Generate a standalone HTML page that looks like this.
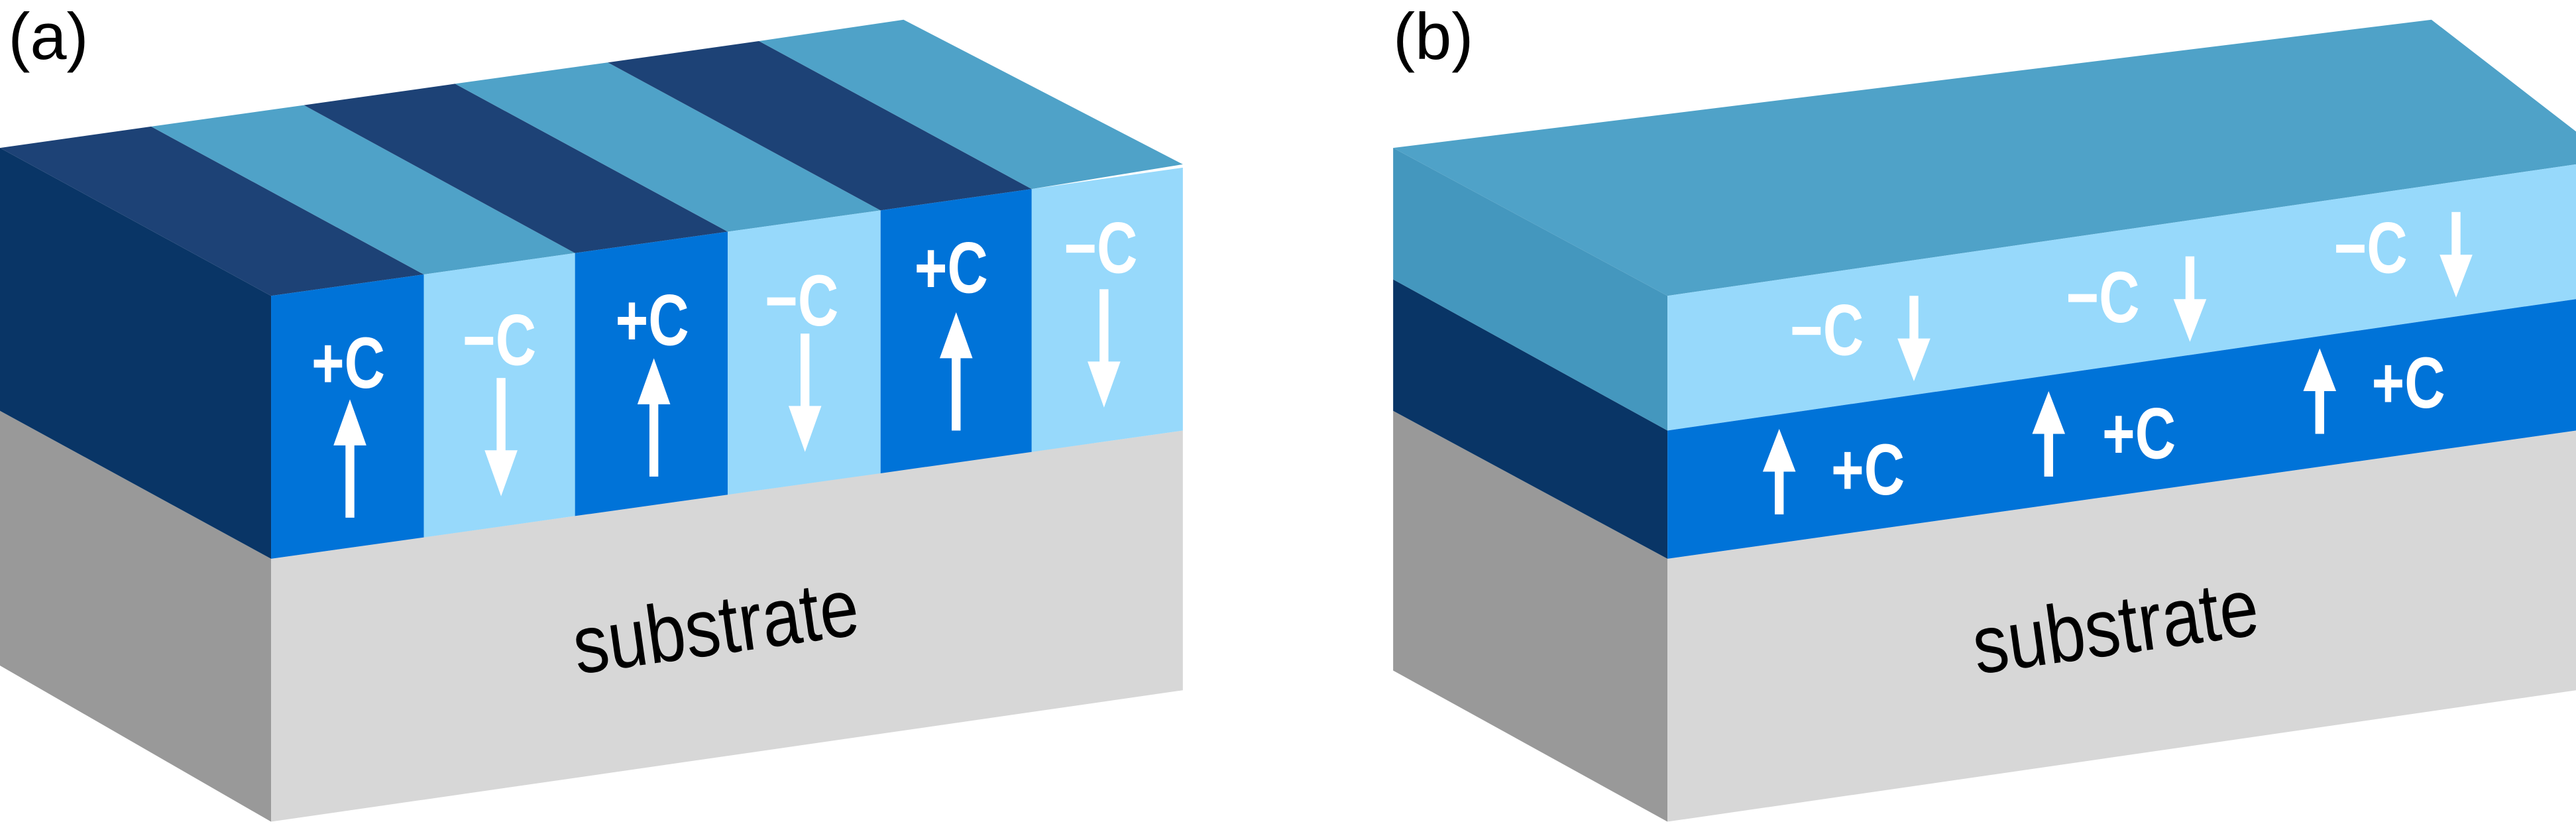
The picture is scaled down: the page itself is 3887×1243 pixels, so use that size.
<!DOCTYPE html>
<html><head><style>html,body{margin:0;padding:0;background:#fff}svg{display:block}</style></head>
<body>
<svg width="3887" height="1243" viewBox="0 0 1568 501.4" preserveAspectRatio="none" xmlns="http://www.w3.org/2000/svg" font-family="Liberation Sans, sans-serif">
<defs>
<g id="up"><rect x="-2.7" y="26" width="5.4" height="46" fill="#fff"/><polygon points="0,0 -10,28 10,28" fill="#fff"/></g>
<g id="dn"><rect x="-2.7" y="0" width="5.4" height="46" fill="#fff"/><polygon points="0,72 -10,44 10,44" fill="#fff"/></g>
<g id="up2"><rect x="-2.7" y="24" width="5.4" height="28" fill="#fff"/><polygon points="0,0 -10,26 10,26" fill="#fff"/></g>
<g id="dn2"><rect x="-2.7" y="0" width="5.4" height="28" fill="#fff"/><polygon points="0,52 -10,26 10,26" fill="#fff"/></g>
</defs>
<!-- (a) -->
<text x="5" y="36" font-size="40">(a)</text>
<polygon points="0,250 165,340 165,500 0,405" fill="#999"/>
<polygon points="165,340 720,262 720,420 165,500" fill="#d7d7d7"/>
<polygon points="0,90 165,180 165,340 0,250" fill="#093566"/>
<polygon points="0,90 92,77 258,167 165,180" fill="#1d4276"/>
<polygon points="92,77 185,64 350,154 258,167" fill="#4fa2c8"/>
<polygon points="185,64 277,51 443,141 350,154" fill="#1d4276"/>
<polygon points="277,51 370,38 536,128 443,141" fill="#4fa2c8"/>
<polygon points="370,38 462,25 628,115 536,128" fill="#1d4276"/>
<polygon points="462,25 550,12 720,100 628,115" fill="#4fa2c8"/>
<polygon points="165,180 258,167 258,327 165,340" fill="#0073d8"/>
<polygon points="258,167 350,154 350,314 258,327" fill="#97d9fb"/>
<polygon points="350,154 443,141 443,301 350,314" fill="#0073d8"/>
<polygon points="443,141 536,128 536,288 443,301" fill="#97d9fb"/>
<polygon points="536,128 628,115 628,275 536,288" fill="#0073d8"/>
<polygon points="628,115 720,102 720,262 628,275" fill="#97d9fb"/>
<g fill="#fff" font-weight="bold" font-size="44" text-anchor="middle">
<text transform="translate(212,236) scale(0.78,1)">+C</text>
<text transform="translate(304,222) scale(0.78,1)">−C</text>
<text transform="translate(397,210) scale(0.78,1)">+C</text>
<text transform="translate(488,198) scale(0.78,1)">−C</text>
<text transform="translate(579,178) scale(0.78,1)">+C</text>
<text transform="translate(670,166) scale(0.78,1)">−C</text>
</g>
<use href="#up" x="213" y="243"/>
<use href="#dn" x="305" y="230"/>
<use href="#up" x="398" y="218"/>
<use href="#dn" x="490" y="203"/>
<use href="#up" x="582" y="190"/>
<use href="#dn" x="672" y="176"/>
<text font-size="50" text-anchor="middle" transform="translate(438,398) rotate(-8) scale(0.85,1)">substrate</text>
<!-- (b) -->
<text x="848" y="36" font-size="40">(b)</text>
<polygon points="848,250 1015,340 1015,500 848,408" fill="#999"/>
<polygon points="1015,340 1568,262 1568,420 1015,500" fill="#d7d7d7"/>
<polygon points="848,170 1015,262 1015,340 848,250" fill="#093566"/>
<polygon points="848,90 1015,180 1015,262 848,170" fill="#4497be"/>
<polygon points="848,90 1480,12 1568,80 1568,100 1015,180" fill="#4fa2c8"/>
<polygon points="1015,180 1568,100 1568,182 1015,262" fill="#97d9fb"/>
<polygon points="1015,262 1568,182 1568,262 1015,340" fill="#0073d8"/>
<g fill="#fff" font-weight="bold" font-size="44" text-anchor="middle">
<text transform="translate(1112,216) scale(0.78,1)">−C</text>
<text transform="translate(1280,196) scale(0.78,1)">−C</text>
<text transform="translate(1443,166) scale(0.78,1)">−C</text>
<text transform="translate(1137,301) scale(0.78,1)">+C</text>
<text transform="translate(1302,279) scale(0.78,1)">+C</text>
<text transform="translate(1466,248) scale(0.78,1)">+C</text>
</g>
<use href="#dn2" x="1165" y="180"/>
<use href="#dn2" x="1333" y="156"/>
<use href="#dn2" x="1495" y="129"/>
<use href="#up2" x="1083" y="261"/>
<use href="#up2" x="1247" y="238"/>
<use href="#up2" x="1412" y="212"/>
<text font-size="50" text-anchor="middle" transform="translate(1290,398) rotate(-8) scale(0.85,1)">substrate</text>
</svg>
</body></html>
